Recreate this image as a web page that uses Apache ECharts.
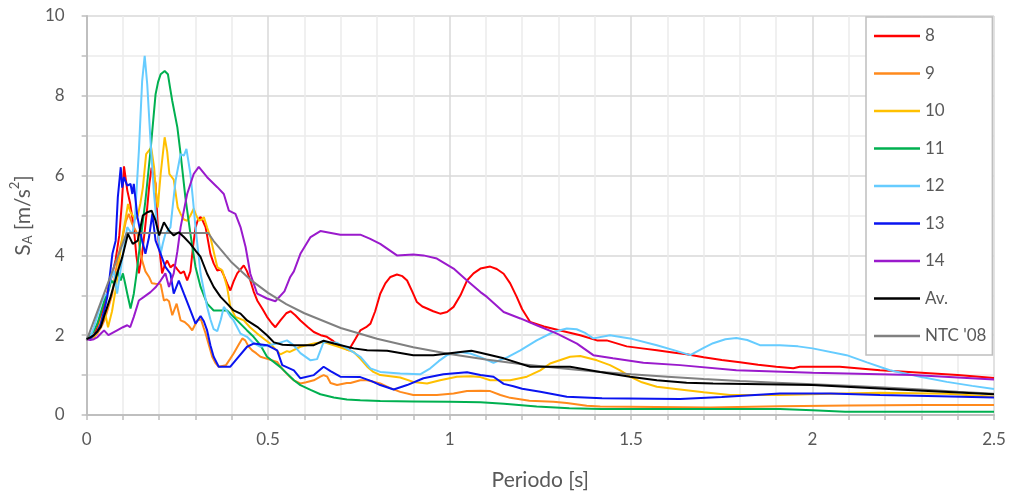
<!DOCTYPE html>
<html>
<head>
<meta charset="utf-8">
<script src="https://cdn.jsdelivr.net/npm/echarts@6/dist/echarts.min.js"></script>
<style>html,body{margin:0;padding:0;background:#fff}#c{width:1011px;height:496px}</style>
</head>
<body>
<div id="c"></div>
<script>
const seriesNames = ['8','9','10','11','12','13','14','Av.',"NTC '08"];
const seriesColors = ['#FF0000','#FF8A1C','#FFC000','#00B050','#66CCFF','#0A14F0','#9A1ACC','#000000','#808080'];

const s8 = [[0,1.9],[0.01,1.95],[0.02,2.0],[0.03,2.2],[0.04,2.5],[0.05,2.8],[0.06,3.2],[0.07,3.5],[0.08,3.9],[0.09,4.5],[0.097,5.3],[0.103,6.23],[0.112,5.63],[0.12,5.3],[0.13,4.7],[0.137,4.0],[0.144,3.55],[0.153,4.05],[0.16,4.6],[0.167,5.2],[0.173,5.8],[0.179,6.2],[0.19,5.8],[0.198,4.37],[0.208,3.55],[0.215,3.75],[0.222,3.87],[0.231,3.7],[0.24,3.77],[0.25,3.65],[0.259,3.55],[0.268,3.6],[0.277,3.37],[0.286,3.6],[0.293,4.2],[0.3,4.7],[0.307,4.9],[0.314,4.96],[0.321,4.85],[0.328,4.7],[0.341,4.04],[0.35,3.8],[0.36,3.62],[0.37,3.65],[0.378,3.5],[0.387,3.3],[0.396,3.12],[0.405,3.35],[0.415,3.55],[0.433,3.75],[0.442,3.6],[0.451,3.37],[0.46,3.1],[0.47,2.87],[0.485,2.65],[0.497,2.46],[0.51,2.3],[0.52,2.2],[0.534,2.37],[0.55,2.55],[0.562,2.6],[0.575,2.5],[0.589,2.37],[0.61,2.2],[0.626,2.08],[0.645,2.0],[0.662,1.96],[0.68,1.85],[0.694,1.75],[0.71,1.68],[0.722,1.62],[0.74,1.9],[0.754,2.12],[0.77,2.2],[0.782,2.29],[0.795,2.6],[0.809,3.04],[0.823,3.3],[0.837,3.46],[0.855,3.52],[0.87,3.48],[0.883,3.37],[0.897,3.1],[0.91,2.83],[0.925,2.72],[0.938,2.67],[0.955,2.6],[0.974,2.54],[0.993,2.58],[1.011,2.71],[1.03,3.0],[1.048,3.37],[1.066,3.55],[1.085,3.67],[1.112,3.72],[1.13,3.66],[1.149,3.54],[1.167,3.3],[1.185,2.96],[1.2,2.65],[1.222,2.33],[1.26,2.22],[1.305,2.12],[1.36,2.0],[1.406,1.87],[1.433,1.87],[1.488,1.72],[1.53,1.67],[1.571,1.62],[1.62,1.56],[1.653,1.52],[1.7,1.45],[1.75,1.38],[1.8,1.32],[1.85,1.26],[1.9,1.21],[1.947,1.17],[1.965,1.21],[2.075,1.21],[2.186,1.12],[2.3,1.06],[2.4,1.0],[2.5,0.93]];

const s9 = [[0,1.9],[0.01,1.92],[0.02,1.95],[0.03,2.05],[0.04,2.2],[0.05,2.4],[0.06,2.7],[0.07,3.0],[0.08,3.6],[0.09,4.1],[0.1,4.5],[0.108,4.85],[0.116,5.04],[0.125,4.8],[0.14,4.54],[0.146,4.2],[0.153,3.87],[0.162,3.6],[0.172,3.46],[0.18,3.3],[0.19,3.29],[0.204,3.28],[0.213,2.87],[0.22,2.9],[0.227,2.85],[0.236,2.5],[0.248,2.79],[0.259,2.37],[0.27,2.33],[0.28,2.25],[0.291,2.12],[0.298,2.25],[0.305,2.37],[0.315,2.4],[0.322,2.2],[0.328,2.04],[0.337,1.75],[0.346,1.46],[0.355,1.3],[0.364,1.21],[0.384,1.25],[0.395,1.4],[0.405,1.54],[0.418,1.75],[0.429,1.92],[0.437,1.87],[0.446,1.72],[0.456,1.62],[0.467,1.55],[0.479,1.46],[0.5,1.4],[0.525,1.33],[0.534,1.21],[0.55,1.05],[0.56,0.96],[0.571,0.87],[0.589,0.79],[0.605,0.82],[0.626,0.87],[0.644,0.96],[0.653,1.0],[0.663,0.96],[0.672,0.8],[0.69,0.75],[0.717,0.8],[0.727,0.8],[0.754,0.87],[0.773,0.87],[0.809,0.79],[0.835,0.68],[0.864,0.58],[0.9,0.5],[0.965,0.5],[1.011,0.54],[1.048,0.6],[1.085,0.61],[1.112,0.6],[1.14,0.5],[1.167,0.43],[1.22,0.36],[1.286,0.33],[1.323,0.3],[1.378,0.23],[1.415,0.21],[1.57,0.2],[1.718,0.19],[1.91,0.22],[2.1,0.24],[2.3,0.25],[2.5,0.25]];

const s10 = [[0,1.9],[0.01,1.92],[0.02,1.95],[0.03,2.1],[0.04,2.4],[0.05,2.6],[0.059,2.2],[0.07,2.6],[0.081,3.2],[0.09,3.9],[0.1,4.54],[0.107,4.9],[0.114,5.29],[0.12,5.1],[0.127,5.0],[0.134,4.9],[0.141,5.0],[0.148,5.3],[0.155,5.7],[0.164,6.54],[0.178,6.7],[0.186,6.2],[0.191,5.6],[0.196,5.2],[0.204,6.04],[0.215,6.96],[0.222,6.6],[0.228,6.04],[0.24,5.9],[0.251,5.2],[0.259,5.04],[0.268,4.9],[0.277,4.87],[0.286,5.0],[0.295,5.17],[0.302,5.0],[0.31,4.87],[0.317,4.9],[0.323,4.96],[0.332,4.7],[0.341,4.46],[0.35,4.1],[0.36,3.71],[0.374,3.62],[0.387,3.21],[0.396,2.71],[0.41,2.46],[0.433,2.37],[0.45,2.2],[0.47,2.04],[0.49,1.9],[0.506,1.79],[0.52,1.65],[0.534,1.52],[0.552,1.6],[0.56,1.58],[0.589,1.71],[0.626,1.79],[0.653,1.83],[0.694,1.71],[0.736,1.58],[0.755,1.4],[0.773,1.21],[0.79,1.08],[0.809,1.0],[0.864,0.94],[0.9,0.83],[0.938,0.79],[0.974,0.87],[1.02,0.96],[1.057,0.97],[1.085,0.95],[1.112,0.87],[1.167,0.87],[1.213,0.96],[1.25,1.12],[1.277,1.29],[1.332,1.46],[1.36,1.48],[1.406,1.37],[1.442,1.25],[1.47,1.12],[1.497,0.96],[1.53,0.82],[1.571,0.71],[1.635,0.64],[1.7,0.57],[1.773,0.5],[1.91,0.5],[2.05,0.53],[2.186,0.56],[2.37,0.53],[2.5,0.46]];

const s11 = [[0,1.9],[0.01,2.0],[0.02,2.1],[0.03,2.3],[0.04,2.6],[0.05,2.9],[0.06,3.1],[0.068,3.37],[0.075,3.3],[0.086,3.6],[0.094,3.37],[0.1,3.55],[0.106,3.3],[0.112,3.04],[0.121,2.67],[0.13,3.04],[0.137,3.5],[0.144,4.04],[0.153,4.7],[0.162,5.37],[0.176,6.62],[0.19,8.04],[0.197,8.35],[0.204,8.54],[0.215,8.62],[0.224,8.54],[0.23,8.2],[0.236,7.87],[0.25,7.21],[0.259,6.54],[0.272,5.46],[0.286,4.54],[0.3,3.71],[0.314,3.21],[0.332,2.79],[0.35,2.62],[0.387,2.62],[0.405,2.46],[0.442,2.12],[0.46,1.96],[0.479,1.75],[0.497,1.46],[0.534,1.2],[0.571,0.87],[0.589,0.75],[0.617,0.63],[0.644,0.52],[0.681,0.44],[0.717,0.39],[0.754,0.37],[0.809,0.35],[0.9,0.34],[1.0,0.33],[1.085,0.32],[1.15,0.28],[1.24,0.21],[1.33,0.17],[1.42,0.15],[1.6,0.15],[1.91,0.15],[2.0,0.12],[2.09,0.08],[2.3,0.08],[2.5,0.08]];

const s12 = [[0,1.9],[0.01,1.95],[0.02,2.2],[0.03,2.5],[0.04,2.8],[0.05,3.0],[0.057,3.04],[0.066,3.4],[0.075,3.62],[0.084,3.04],[0.093,3.6],[0.103,4.21],[0.112,4.71],[0.12,4.6],[0.126,4.54],[0.133,4.9],[0.138,5.7],[0.144,6.62],[0.153,8.37],[0.16,9.0],[0.167,8.29],[0.176,6.87],[0.185,5.62],[0.194,4.7],[0.204,4.04],[0.21,4.3],[0.217,4.54],[0.231,4.7],[0.238,5.3],[0.245,5.87],[0.259,6.54],[0.268,6.5],[0.275,6.67],[0.286,6.04],[0.293,5.4],[0.3,4.7],[0.314,3.54],[0.332,2.71],[0.341,2.4],[0.35,2.15],[0.36,2.1],[0.37,2.4],[0.378,2.71],[0.387,2.6],[0.396,2.46],[0.405,2.37],[0.424,2.04],[0.442,1.96],[0.46,1.8],[0.479,1.71],[0.5,1.75],[0.525,1.79],[0.552,1.87],[0.57,1.75],[0.589,1.55],[0.617,1.37],[0.635,1.4],[0.653,1.83],[0.69,1.81],[0.727,1.62],[0.754,1.46],[0.782,1.17],[0.809,1.08],[0.864,1.04],[0.919,1.02],[0.947,1.17],[0.97,1.35],[0.993,1.5],[1.03,1.58],[1.057,1.54],[1.085,1.45],[1.121,1.31],[1.16,1.45],[1.195,1.62],[1.24,1.87],[1.286,2.08],[1.323,2.17],[1.35,2.15],[1.375,2.05],[1.396,1.92],[1.442,2.0],[1.497,1.92],[1.571,1.75],[1.62,1.62],[1.663,1.5],[1.7,1.68],[1.726,1.8],[1.76,1.9],[1.79,1.93],[1.82,1.88],[1.855,1.75],[1.91,1.75],[1.96,1.72],[2.0,1.67],[2.094,1.5],[2.15,1.32],[2.213,1.12],[2.3,0.95],[2.37,0.83],[2.44,0.73],[2.5,0.65]];

const s13 = [[0,1.9],[0.01,1.92],[0.02,2.0],[0.03,2.1],[0.039,2.29],[0.048,2.6],[0.057,2.96],[0.064,3.5],[0.071,4.04],[0.08,4.37],[0.086,5.46],[0.094,6.21],[0.098,5.7],[0.103,5.96],[0.112,5.75],[0.121,5.79],[0.126,5.54],[0.13,5.79],[0.14,4.96],[0.153,4.37],[0.162,4.04],[0.172,4.46],[0.181,5.04],[0.19,4.37],[0.204,4.04],[0.217,3.71],[0.231,3.54],[0.24,3.04],[0.254,3.37],[0.268,3.04],[0.286,2.62],[0.3,2.29],[0.314,2.48],[0.323,2.35],[0.332,2.12],[0.341,1.75],[0.35,1.46],[0.364,1.21],[0.396,1.21],[0.415,1.42],[0.442,1.71],[0.46,1.79],[0.497,1.75],[0.525,1.62],[0.539,1.25],[0.571,1.12],[0.589,0.92],[0.626,1.0],[0.653,1.21],[0.672,1.1],[0.699,0.96],[0.754,0.95],[0.785,0.85],[0.809,0.75],[0.846,0.64],[0.883,0.75],[0.928,0.92],[0.983,1.02],[1.048,1.07],[1.085,1.0],[1.121,0.96],[1.149,0.78],[1.176,0.72],[1.2,0.66],[1.25,0.58],[1.323,0.46],[1.42,0.42],[1.635,0.4],[1.75,0.45],[1.91,0.54],[2.05,0.54],[2.186,0.5],[2.35,0.47],[2.5,0.44]];

const s14 = [[0,1.9],[0.01,1.88],[0.02,1.9],[0.03,1.95],[0.04,2.05],[0.048,2.12],[0.06,2.0],[0.07,2.05],[0.084,2.12],[0.1,2.2],[0.112,2.25],[0.12,2.2],[0.13,2.46],[0.144,2.87],[0.158,2.96],[0.176,3.08],[0.19,3.2],[0.204,3.37],[0.217,3.55],[0.227,3.21],[0.24,3.55],[0.25,4.1],[0.259,4.71],[0.277,5.54],[0.295,6.04],[0.309,6.22],[0.332,5.96],[0.36,5.71],[0.378,5.54],[0.392,5.12],[0.41,5.04],[0.424,4.71],[0.438,4.21],[0.451,3.54],[0.47,3.04],[0.497,2.92],[0.52,2.85],[0.545,3.1],[0.561,3.46],[0.571,3.6],[0.589,4.04],[0.617,4.46],[0.644,4.61],[0.699,4.52],[0.754,4.52],[0.78,4.42],[0.809,4.29],[0.855,4.0],[0.9,4.02],[0.928,4.0],[0.965,3.92],[1.011,3.67],[1.048,3.37],[1.085,3.08],[1.103,2.96],[1.149,2.58],[1.195,2.42],[1.24,2.25],[1.296,2.04],[1.351,1.79],[1.396,1.5],[1.45,1.42],[1.534,1.31],[1.635,1.25],[1.79,1.12],[2.0,1.06],[2.277,1.0],[2.5,0.89]];

const sAv = [[0,1.9],[0.011,1.95],[0.02,2.0],[0.03,2.1],[0.039,2.21],[0.052,2.58],[0.066,2.96],[0.084,3.54],[0.098,3.95],[0.114,4.54],[0.127,4.29],[0.141,4.37],[0.155,5.0],[0.167,5.08],[0.179,5.12],[0.19,4.87],[0.2,4.5],[0.213,4.83],[0.227,4.62],[0.24,4.5],[0.254,4.58],[0.268,4.46],[0.286,4.29],[0.3,4.12],[0.314,3.96],[0.332,3.54],[0.35,3.21],[0.369,2.96],[0.387,2.79],[0.405,2.62],[0.424,2.54],[0.442,2.37],[0.47,2.21],[0.497,2.0],[0.516,1.82],[0.54,1.76],[0.571,1.75],[0.626,1.75],[0.653,1.86],[0.681,1.79],[0.736,1.67],[0.773,1.62],[0.828,1.61],[0.9,1.5],[0.955,1.5],[1.03,1.58],[1.06,1.61],[1.085,1.56],[1.149,1.42],[1.222,1.21],[1.332,1.21],[1.415,1.08],[1.497,0.96],[1.571,0.87],[1.653,0.81],[1.726,0.79],[2.0,0.75],[2.277,0.62],[2.5,0.52]];

const sNTC = [[0,1.87],[0.11,4.56],[0.335,4.56],[0.35,4.36],[0.4,3.82],[0.45,3.4],[0.5,3.06],[0.55,2.78],[0.6,2.55],[0.7,2.18],[0.8,1.91],[0.9,1.7],[1.0,1.53],[1.1,1.39],[1.2,1.27],[1.3,1.18],[1.4,1.09],[1.5,1.02],[1.6,0.96],[1.7,0.9],[1.8,0.85],[1.9,0.81],[2.0,0.77],[2.1,0.73],[2.2,0.69],[2.3,0.64],[2.4,0.58],[2.5,0.53]];

const allData = [s8, s9, s10, s11, s12, s13, s14, sAv, sNTC];
const xTicks = {min: 0, max: 2.5, interval: 0.5};
const yTicks = {min: 0, max: 10, interval: 2};

const FONT = 'Lato, "Open Sans", sans-serif';
const TXT = '#595959';

const chart = echarts.init(document.getElementById('c'), null, {renderer: 'canvas'});
chart.setOption({
  animation: false,
  backgroundColor: '#ffffff',
  textStyle: {fontFamily: FONT},
  grid: {left: 86, right: 17, top: 16, bottom: 81, containLabel: false},
  legend: {
    orient: 'vertical',
    left: 866, top: 17,
    padding: [9, 6, 9, 8],
    backgroundColor: '#ffffff',
    borderColor: '#bfbfbf', borderWidth: 1.5,
    itemWidth: 46, itemHeight: 2.5,
    itemGap: 17.5,
    icon: 'rect',
    textStyle: {fontFamily: FONT, fontSize: 17, color: TXT, lineHeight: 20, padding: [0,0,0,0]},
    data: seriesNames
  },
  xAxis: {
    type: 'value', min: xTicks.min, max: xTicks.max, interval: xTicks.interval,
    name: 'Periodo [s]', nameLocation: 'middle', nameGap: 55,
    nameTextStyle: {fontFamily: FONT, fontSize: 21, color: TXT},
    axisLine: {show: true, lineStyle: {color: '#bfbfbf', width: 2}},
    axisTick: {show: true, length: 5, lineStyle: {color: '#bfbfbf', width: 1.5}},
    minorTick: {show: true, splitNumber: 5, length: 5, lineStyle: {color: '#bfbfbf', width: 1.5}},
    axisLabel: {fontFamily: FONT, fontSize: 17, color: TXT, margin: 16},
    splitLine: {show: true, lineStyle: {color: '#d9d9d9', width: 1.5}},
    minorSplitLine: {show: true, lineStyle: {color: '#ececec', width: 1.5}}
  },
  yAxis: {
    type: 'value', min: yTicks.min, max: yTicks.max, interval: yTicks.interval,
    name: '{b|S}{s|A}{b| [m/s}{p|2}{b|]}', nameLocation: 'middle', nameGap: 41,
    nameTextStyle: {
      fontFamily: FONT, fontSize: 21, color: TXT,
      rich: {
        b: {fontFamily: FONT, fontSize: 21, color: TXT, lineHeight: 26, verticalAlign: 'bottom'},
        s: {fontFamily: FONT, fontSize: 13, color: TXT, lineHeight: 12, verticalAlign: 'bottom'},
        p: {fontFamily: FONT, fontSize: 13, color: TXT, lineHeight: 12, verticalAlign: 'top'}
      }
    },
    axisLine: {show: true, lineStyle: {color: '#bfbfbf', width: 2}},
    axisTick: {show: true, length: 5, lineStyle: {color: '#bfbfbf', width: 1.5}},
    minorTick: {show: true, splitNumber: 2, length: 5, lineStyle: {color: '#bfbfbf', width: 1.5}},
    axisLabel: {fontFamily: FONT, fontSize: 17, color: TXT, margin: 22},
    splitLine: {show: true, lineStyle: {color: '#d9d9d9', width: 1.5}},
    minorSplitLine: {show: true, lineStyle: {color: '#ececec', width: 1.5}}
  },
  series: seriesNames.map((n, i) => ({
    name: n, type: 'line', data: allData[i],
    showSymbol: false, symbol: 'none', smooth: false,
    color: seriesColors[i],
    lineStyle: {color: seriesColors[i], width: 2},
    itemStyle: {color: seriesColors[i]},
    z: 2 + (i === 7 ? 1 : 0)
  }))
});
</script>
</body>
</html>
